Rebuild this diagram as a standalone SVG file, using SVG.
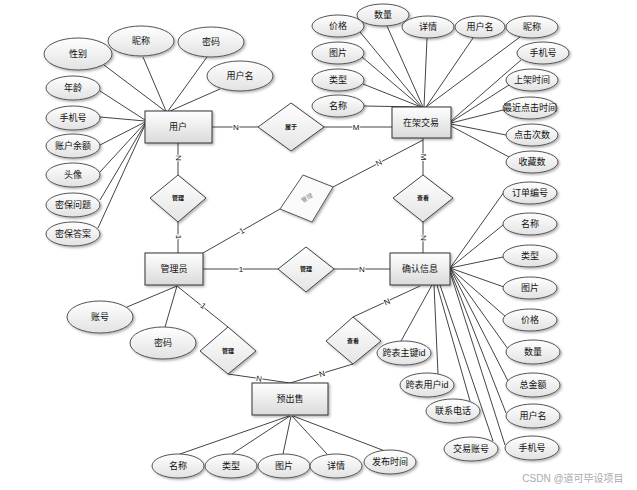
<svg xmlns="http://www.w3.org/2000/svg" width="637" height="490" viewBox="0 0 637 490">
<defs>
<linearGradient id="gE" x1="0" y1="0" x2="0" y2="1"><stop offset="0" stop-color="#ffffff"/><stop offset="1" stop-color="#e2e2e2"/></linearGradient>
<linearGradient id="gR" x1="0" y1="0" x2="0" y2="1"><stop offset="0" stop-color="#ffffff"/><stop offset="1" stop-color="#dadada"/></linearGradient>
<linearGradient id="gD" x1="0" y1="0" x2="0" y2="1"><stop offset="0" stop-color="#ffffff"/><stop offset="1" stop-color="#e4e4e4"/></linearGradient>
<filter id="sh" x="-20%" y="-20%" width="150%" height="160%"><feDropShadow dx="1.5" dy="1.5" stdDeviation="1" flood-color="#000" flood-opacity="0.3"/></filter>
</defs>
<style>
text{font-family:"Liberation Sans","Noto Sans CJK SC",sans-serif;fill:#111;text-anchor:middle;dominant-baseline:central}
.at ellipse{fill:url(#gE);stroke:#555;stroke-width:1;filter:url(#sh)}
.at text{font-size:9px}
.en rect{fill:url(#gR);stroke:#333;stroke-width:1;filter:url(#sh)}
.en text{font-size:9px}
.rl polygon{fill:url(#gD);stroke:#444;stroke-width:1;filter:url(#sh)}
.rl text{font-size:6px;font-weight:bold}
#conn line{stroke:#444;stroke-width:1}
.lb{font-size:8px;paint-order:stroke;stroke:#fff;stroke-width:2px}
</style>
<rect width="637" height="490" fill="#fff"/>
<g id="conn">
<line x1="104" y1="65" x2="165" y2="111"/>
<line x1="143" y1="57" x2="166" y2="111"/>
<line x1="207" y1="57" x2="168" y2="111"/>
<line x1="220" y1="89" x2="170" y2="111"/>
<line x1="100" y1="91" x2="145" y2="120"/>
<line x1="100" y1="117" x2="145" y2="121"/>
<line x1="100" y1="145" x2="145" y2="122"/>
<line x1="100" y1="172" x2="145" y2="123"/>
<line x1="100" y1="200" x2="145" y2="124"/>
<line x1="98" y1="228" x2="145" y2="125"/>
<line x1="360" y1="32" x2="422" y2="107"/>
<line x1="387" y1="26" x2="423" y2="107"/>
<line x1="427" y1="38" x2="424" y2="107"/>
<line x1="473" y1="38" x2="426" y2="107"/>
<line x1="520" y1="37" x2="426" y2="107"/>
<line x1="362" y1="57" x2="421" y2="107"/>
<line x1="363" y1="84" x2="421" y2="107"/>
<line x1="364" y1="106" x2="421" y2="107"/>
<line x1="521" y1="60" x2="451" y2="121"/>
<line x1="509" y1="85" x2="451" y2="122"/>
<line x1="503" y1="110" x2="451" y2="123"/>
<line x1="506" y1="135" x2="451" y2="124"/>
<line x1="509" y1="157" x2="451" y2="126"/>
<line x1="450" y1="268" x2="504" y2="192"/>
<line x1="450" y1="268" x2="503" y2="225"/>
<line x1="450" y1="268" x2="503" y2="257"/>
<line x1="450" y1="268" x2="504" y2="287"/>
<line x1="450" y1="268" x2="506" y2="317"/>
<line x1="450" y1="268" x2="508" y2="349"/>
<line x1="450" y1="268" x2="508" y2="381"/>
<line x1="450" y1="270" x2="506" y2="413"/>
<line x1="450" y1="272" x2="505" y2="445"/>
<line x1="432" y1="285" x2="401" y2="341"/>
<line x1="434" y1="285" x2="438" y2="374"/>
<line x1="437" y1="285" x2="470" y2="401"/>
<line x1="440" y1="285" x2="493" y2="441"/>
<line x1="177" y1="286" x2="127" y2="307"/>
<line x1="177" y1="286" x2="165" y2="327"/>
<line x1="289" y1="416" x2="180" y2="454"/>
<line x1="290" y1="416" x2="232" y2="454"/>
<line x1="291" y1="416" x2="283" y2="454"/>
<line x1="292" y1="416" x2="327" y2="454"/>
<line x1="293" y1="416" x2="385" y2="451"/>
<line x1="212" y1="127" x2="258" y2="127"/>
<line x1="324" y1="127" x2="392" y2="127"/>
<line x1="178" y1="143" x2="178" y2="175"/>
<line x1="178" y1="222" x2="178" y2="253"/>
<line x1="423" y1="138" x2="423" y2="175"/>
<line x1="423" y1="222" x2="423" y2="253"/>
<line x1="423" y1="140" x2="333" y2="187"/>
<line x1="203" y1="253" x2="280" y2="209"/>
<line x1="203" y1="269" x2="278" y2="269"/>
<line x1="334" y1="269" x2="390" y2="269"/>
<line x1="420" y1="286" x2="353" y2="317"/>
<line x1="353" y1="364" x2="290" y2="383"/>
<line x1="177" y1="286" x2="228" y2="327"/>
<line x1="228" y1="374" x2="290" y2="383"/>
<text class="lb" x="236" y="127">N</text>
<text class="lb" x="356" y="127">M</text>
<text class="lb" transform="translate(178,158) rotate(90)">N</text>
<text class="lb" transform="translate(178,237) rotate(90)">1</text>
<text class="lb" transform="translate(423,157) rotate(90)">M</text>
<text class="lb" transform="translate(423,238) rotate(90)">N</text>
<text class="lb" transform="translate(379,163) rotate(-27.6)">N</text>
<text class="lb" transform="translate(242,231) rotate(-29.7)">1</text>
<text class="lb" x="241" y="269">1</text>
<text class="lb" x="362" y="269">N</text>
<text class="lb" transform="translate(387,302) rotate(-24.8)">N</text>
<text class="lb" transform="translate(322,374) rotate(-16.8)">N</text>
<text class="lb" transform="translate(259,379) rotate(8.3)">N</text>
<text class="lb" transform="translate(203,306) rotate(38.8)">1</text>
</g>
<g id="user-attrs" class="at">
<ellipse cx="78" cy="54" rx="34" ry="16"/><text x="78" y="54">性别</text>
<ellipse cx="141" cy="41" rx="33" ry="15"/><text x="141" y="41">昵称</text>
<ellipse cx="211" cy="42" rx="33" ry="15"/><text x="211" y="42">密码</text>
<ellipse cx="240" cy="76" rx="33" ry="15"/><text x="240" y="76">用户名</text>
<ellipse cx="73" cy="88" rx="27" ry="12"/><text x="73" y="88">年龄</text>
<ellipse cx="73" cy="118" rx="27" ry="12"/><text x="73" y="118">手机号</text>
<ellipse cx="73" cy="146" rx="27" ry="12"/><text x="73" y="146">账户余额</text>
<ellipse cx="73" cy="175" rx="27" ry="12"/><text x="73" y="175">头像</text>
<ellipse cx="73" cy="205" rx="27" ry="12"/><text x="73" y="205">密保问题</text>
<ellipse cx="73" cy="234" rx="27" ry="12"/><text x="73" y="234">密保答案</text>
</g>
<g id="trade-attrs" class="at">
<ellipse cx="338" cy="26" rx="26" ry="11"/><text x="338" y="26">价格</text>
<ellipse cx="383" cy="15" rx="26" ry="11"/><text x="383" y="15">数量</text>
<ellipse cx="428" cy="27" rx="26" ry="11"/><text x="428" y="27">详情</text>
<ellipse cx="480" cy="27" rx="25" ry="11"/><text x="480" y="27">用户名</text>
<ellipse cx="532" cy="27" rx="26" ry="11"/><text x="532" y="27">昵称</text>
<ellipse cx="338" cy="53" rx="26" ry="11"/><text x="338" y="53">图片</text>
<ellipse cx="338" cy="80" rx="26" ry="11"/><text x="338" y="80">类型</text>
<ellipse cx="338" cy="106" rx="26" ry="11"/><text x="338" y="106">名称</text>
<ellipse cx="543" cy="53" rx="26" ry="11"/><text x="543" y="53">手机号</text>
<ellipse cx="532" cy="80" rx="26" ry="11"/><text x="532" y="80">上架时间</text>
<ellipse cx="530" cy="108" rx="27" ry="11"/><text x="530" y="108">最近点击时间</text>
<ellipse cx="532" cy="135" rx="26" ry="11"/><text x="532" y="135">点击次数</text>
<ellipse cx="532" cy="162" rx="26" ry="11"/><text x="532" y="162">收藏数</text>
</g>
<g id="confirm-attrs" class="at">
<ellipse cx="530" cy="193" rx="27" ry="11"/><text x="530" y="193">订单编号</text>
<ellipse cx="530" cy="224" rx="27" ry="11"/><text x="530" y="224">名称</text>
<ellipse cx="530" cy="256" rx="27" ry="11"/><text x="530" y="256">类型</text>
<ellipse cx="530" cy="288" rx="27" ry="11"/><text x="530" y="288">图片</text>
<ellipse cx="530" cy="320" rx="27" ry="11"/><text x="530" y="320">价格</text>
<ellipse cx="533" cy="352" rx="27" ry="12"/><text x="533" y="352">数量</text>
<ellipse cx="533" cy="385" rx="27" ry="12"/><text x="533" y="385">总金额</text>
<ellipse cx="533" cy="416" rx="27" ry="12"/><text x="533" y="416">用户名</text>
<ellipse cx="532" cy="448" rx="27" ry="12"/><text x="532" y="448">手机号</text>
<ellipse cx="471" cy="449" rx="27" ry="12"/><text x="471" y="449">交易账号</text>
<ellipse cx="453" cy="411" rx="27" ry="12"/><text x="453" y="411">联系电话</text>
<ellipse cx="427" cy="385" rx="27" ry="12"/><text x="427" y="385">跨表用户id</text>
<ellipse cx="404" cy="353" rx="27" ry="12"/><text x="404" y="353">跨表主键id</text>
</g>
<g id="admin-attrs" class="at">
<ellipse cx="100" cy="317" rx="33" ry="16"/><text x="100" y="317">账号</text>
<ellipse cx="163" cy="343" rx="33" ry="16"/><text x="163" y="343">密码</text>
</g>
<g id="presale-attrs" class="at">
<ellipse cx="178" cy="466" rx="26" ry="12"/><text x="178" y="466">名称</text>
<ellipse cx="231" cy="466" rx="26" ry="12"/><text x="231" y="466">类型</text>
<ellipse cx="284" cy="466" rx="26" ry="12"/><text x="284" y="466">图片</text>
<ellipse cx="336" cy="466" rx="26" ry="12"/><text x="336" y="466">详情</text>
<ellipse cx="390" cy="462" rx="26" ry="12"/><text x="390" y="462">发布时间</text>
</g>
<g id="user" class="en"><rect x="145" y="111" width="67" height="32"/><text x="178" y="127">用户</text></g>
<g id="trade" class="en"><rect x="392" y="107" width="59" height="31"/><text x="421" y="123">在架交易</text></g>
<g id="admin" class="en"><rect x="145" y="253" width="58" height="32"/><text x="174" y="269">管理员</text></g>
<g id="confirm" class="en"><rect x="390" y="253" width="60" height="32"/><text x="420" y="269">确认信息</text></g>
<g id="presale" class="en"><rect x="252" y="383" width="76" height="32"/><text x="290" y="399">预出售</text></g>
<g id="rel-belong" class="rl"><polygon points="258,127 291,103 324,127 291,151"/><text x="291" y="127">属于</text></g>
<g id="rel-manage1" class="rl"><polygon points="178,175 206,198 178,222 150,198"/><text x="178" y="198">管理</text></g>
<g id="rel-manage2" class="rl"><polygon points="303,175 333,187 312,222 280,209" style="fill:#fafafa;stroke:#555"/><text x="307" y="198" transform="rotate(-30 307 198)" style="fill:#888;font-weight:normal">管理</text></g>
<g id="rel-view1" class="rl"><polygon points="423,175 453,198 423,222 393,198"/><text x="423" y="198">查看</text></g>
<g id="rel-manage3" class="rl"><polygon points="306,247 334,269 306,292 278,269"/><text x="306" y="269">管理</text></g>
<g id="rel-view2" class="rl"><polygon points="353,317 381,341 353,364 326,341"/><text x="353" y="341">查看</text></g>
<g id="rel-manage4" class="rl"><polygon points="228,327 256,351 228,374 200,351"/><text x="228" y="351">管理</text></g>
<text x="573" y="478" style="font-size:10px;fill:#aaa">CSDN @道可毕设项目</text>
</svg>
